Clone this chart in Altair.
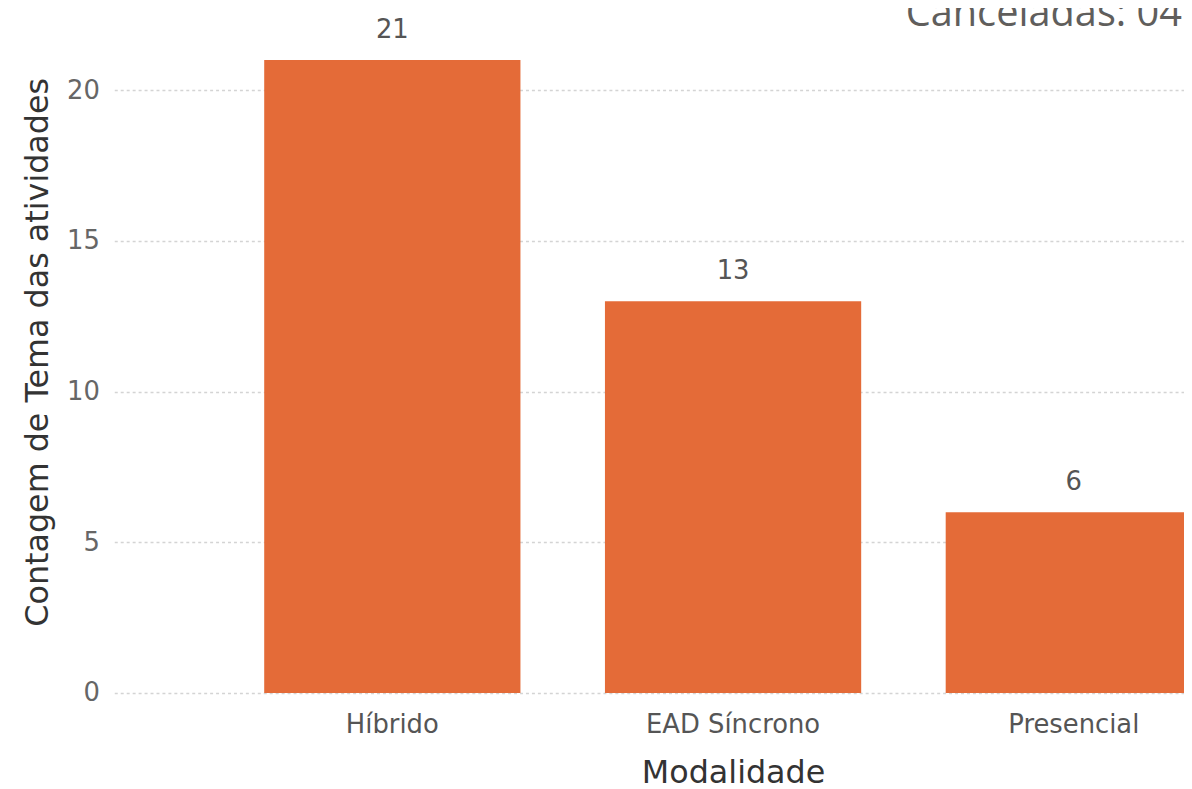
import altair as alt
import pandas as pd

categories = ["Híbrido", "EAD Síncrono", "Presencial"]
counts = [21, 13, 6]
y_ticks = [0, 5, 10, 15, 20]
title_text = ["Canceladas: 04"]

df = pd.DataFrame({"Modalidade": categories, "Contagem": counts})
df_title = pd.DataFrame({"t": title_text})

FONT = "DejaVu Sans"
BAR = "#E46B38"

x_enc = alt.X(
    "Modalidade:N",
    sort=categories,
    title="Modalidade",
    scale=alt.Scale(range=[0, 1246], paddingInner=0.248, paddingOuter=0.44),
    axis=alt.Axis(
        labelAngle=0, domain=False, ticks=False, labelPadding=19,
        labelFont=FONT, labelFontSize=26, labelColor="#555555",
        titleFont=FONT, titleFontSize=32, titleFontWeight="normal",
        titleColor="#333333", titlePadding=20,
    ),
)
y_enc = alt.Y(
    "Contagem:Q",
    title="Contagem de Tema das atividades",
    scale=alt.Scale(domain=[0, 22.64], nice=False),
    axis=alt.Axis(
        values=y_ticks, domain=False, ticks=False, labelPadding=15,
        labelFont=FONT, labelFontSize=26, labelColor="#666666",
        titleFont=FONT, titleFontSize=32, titleFontWeight="normal",
        titleColor="#333333", titlePadding=12,
        grid=True, gridColor="#d4d4d4", gridDash=[3, 3], gridWidth=1.5,
    ),
)

bars = alt.Chart(df).mark_bar(color=BAR, clip=True).encode(x=x_enc, y=y_enc)
labels = alt.Chart(df).mark_text(
    font=FONT, fontSize=26, color="#555555", dy=-22, baseline="alphabetic", clip=True
).encode(x=alt.X("Modalidade:N", sort=categories), y="Contagem:Q", text="Contagem:Q")

title_mark = alt.Chart(df_title).mark_text(
    font="Open Sans", fontSize=40, color="#605E5C", align="right", baseline="alphabetic"
).encode(x=alt.value(1075), y=alt.value(15), text="t:N")

chart = (
    alt.layer(bars, labels, title_mark)
    .properties(
        width=1077,
        height=687,
        autosize=alt.AutoSizeParams(type="none"),
        padding={"left": 107, "top": 0, "right": 0, "bottom": 94},
    )
    .configure_view(stroke=None)
)

chart.save("out.html", embed_options={"renderer": "svg", "actions": False})
